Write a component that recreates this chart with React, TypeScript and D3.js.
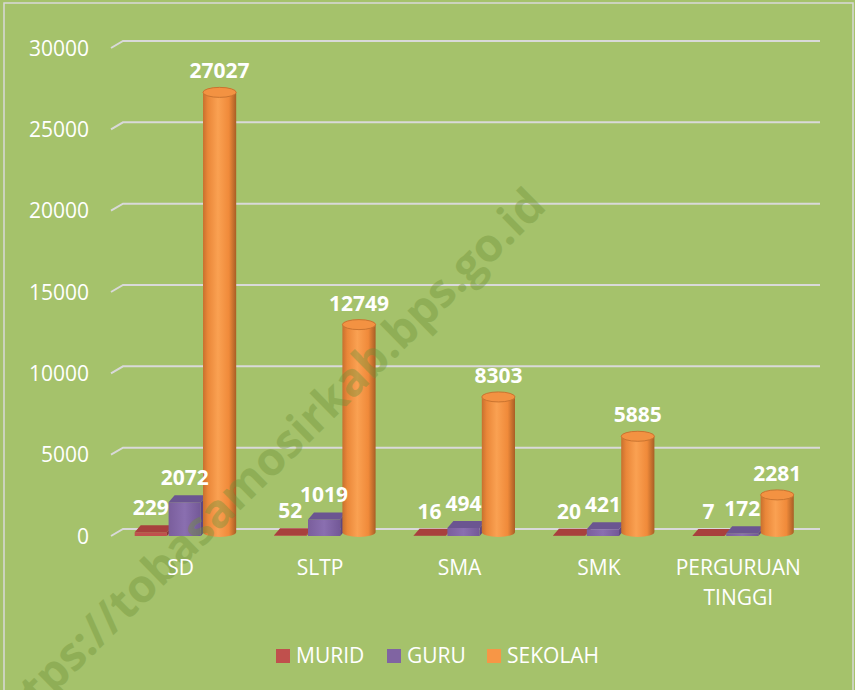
import React from 'react';
import * as d3 from 'd3';

const categories = ['SD', 'SLTP', 'SMA', 'SMK', 'PERGURUAN TINGGI'];
const series = ['MURID', 'GURU', 'SEKOLAH'];
const murid = [229, 52, 16, 20, 7];
const guru = [2072, 1019, 494, 421, 172];
const sekolah = [27027, 12749, 8303, 5885, 2281];
const yTicks = [0, 5000, 10000, 15000, 20000, 25000, 30000];

const W = 855;
const H = 690;
const FONT = "'Open Sans', 'Noto Sans', sans-serif";
const DX = 6;
const DY = -7;

const colors: Record<string, { front: string; top: string; side: string }> = {
  MURID: { front: '#C0504D', top: '#A8403D', side: '#8E3532' },
  GURU: { front: '#8064A2', top: '#6B5591', side: '#5E4781' },
  SEKOLAH: { front: '#F79646', top: '#F39242', side: '#B8692A' },
};

const App = () => {
  const yFront = d3.scaleLinear().domain([0, 30000]).range([536, 48]);
  const yBack = d3.scaleLinear().domain([0, 30000]).range([529, 41]);
  const xCat = d3.scaleBand().domain(categories).range([111, 808]);
  const xGroup = d3.scaleBand().domain(categories).range([115, 812]);
  const xSer = d3.scaleBand().domain(series).range([-50, 50]).paddingInner(0.05);
  const bw = xSer.bandwidth();

  const valuesBySeries: Record<string, number[]> = { MURID: murid, GURU: guru, SEKOLAH: sekolah };

  const boxes: JSX.Element[] = [];
  const labels: JSX.Element[] = [];

  categories.forEach((cat, i) => {
    const cx = (xGroup(cat) as number) + xGroup.bandwidth() / 2;
    series.forEach((s) => {
      const v = valuesBySeries[s][i];
      const x0 = cx + (xSer(s) as number);
      const x1 = x0 + bw;
      const yb = yFront(0);
      const yt = yFront(v);
      const c = colors[s];
      if (s === 'SEKOLAH') {
        const rx = bw / 2 + 0.5;
        const ry = 5;
        const ecx = x0 + bw / 2 + 1;
        const cyTop = yt - 4;
        const cyBot = yb - 4;
        const body = `M${ecx - rx},${cyTop} L${ecx - rx},${cyBot} A${rx},${ry} 0 0 0 ${ecx + rx},${cyBot} L${ecx + rx},${cyTop} Z`;
        boxes.push(
          <g key={`${cat}-${s}`}>
            <path d={body} fill="url(#cylGrad)" />
            <ellipse cx={ecx} cy={cyTop} rx={rx} ry={ry} fill={c.top} stroke="#C97430" strokeWidth={1} />
          </g>
        );
        labels.push(
          <text key={`l-${cat}-${s}`} x={ecx} y={cyTop - ry - 9} textAnchor="middle"
            fill="#fff" fontSize={21} fontWeight={700} fontFamily={FONT}>{v}</text>
        );
      } else {
        const front = `M${x0},${yb} L${x1},${yb} L${x1},${yt} L${x0},${yt} Z`;
        const top = `M${x0},${yt} L${x1},${yt} L${x1 + DX},${yt + DY} L${x0 + DX},${yt + DY} Z`;
        const side = `M${x1},${yb} L${x1 + DX},${yb + DY} L${x1 + DX},${yt + DY} L${x1},${yt} Z`;
        boxes.push(
          <g key={`${cat}-${s}`}>
            <path d={side} fill={c.side} />
            <path d={front} fill={s === 'GURU' ? 'url(#purGrad)' : c.front} />
            <path d={top} fill={c.top} />
          </g>
        );
        labels.push(
          <text key={`l-${cat}-${s}`} x={x0 + bw / 2} y={yt + DY - 10} textAnchor="middle"
            fill="#fff" fontSize={21} fontWeight={700} fontFamily={FONT}>{v}</text>
        );
      }
    });
  });

  const legendItems = [
    { name: 'MURID', x: 276 },
    { name: 'GURU', x: 387 },
    { name: 'SEKOLAH', x: 487 },
  ];

  return (
    <svg width={W} height={H} style={{ position: 'absolute', left: 0, top: 0, display: 'block' }}>
      <defs>
        <linearGradient id="cylGrad" x1="0" x2="1" y1="0" y2="0">
          <stop offset="0%" stopColor="#C8702E" />
          <stop offset="15%" stopColor="#EA8739" />
          <stop offset="45%" stopColor="#FAA152" />
          <stop offset="78%" stopColor="#F08A3A" />
          <stop offset="100%" stopColor="#A85E25" />
        </linearGradient>
        <linearGradient id="purGrad" x1="0" x2="1" y1="0" y2="0">
          <stop offset="0%" stopColor="#7A5E9C" />
          <stop offset="50%" stopColor="#8A6FB0" />
          <stop offset="100%" stopColor="#735897" />
        </linearGradient>
      </defs>
      <rect x={0} y={0} width={W} height={H} fill="#A5C26B" />
      <rect x={4} y={3} width={W - 6} height={H - 2} fill="none" stroke="#D9D9D9" strokeWidth={1.5} />

      {yTicks.map((t) => (
        <g key={t}>
          <polyline points={`111,${yFront(t)} 123,${yBack(t)} 820,${yBack(t)}`}
            fill="none" stroke="#D9D9D9" strokeWidth={2} />
          <text x={89} y={yFront(t) + 2} textAnchor="end" dominantBaseline="middle"
            fill="#fff" fontSize={21} fontFamily={FONT}>{t}</text>
        </g>
      ))}

      {boxes}

      <text transform="translate(548,208) rotate(-44.5)" textAnchor="end"
        fontSize={46} fontWeight={700} fontFamily={FONT} fill="#6F9238" opacity={0.4}>
        https://tobasamosirkab.bps.go.id
      </text>

      {labels}

      {categories.map((cat) => {
        const cx = (xCat(cat) as number) + xCat.bandwidth() / 2;
        const lines = cat.split(' ');
        return (
          <text key={cat} x={cx} y={575} textAnchor="middle" fill="#fff" fontSize={21} fontFamily={FONT}>
            {lines.map((ln, j) => (
              <tspan key={j} x={cx} dy={j === 0 ? 0 : 30}>{ln}</tspan>
            ))}
          </text>
        );
      })}

      {legendItems.map((it) => (
        <g key={it.name}>
          <rect x={it.x} y={649} width={14} height={14} fill={colors[it.name].front} />
          <text x={it.x + 20} y={663} fill="#fff" fontSize={21} fontFamily={FONT}>{it.name}</text>
        </g>
      ))}
    </svg>
  );
};

export default App;
